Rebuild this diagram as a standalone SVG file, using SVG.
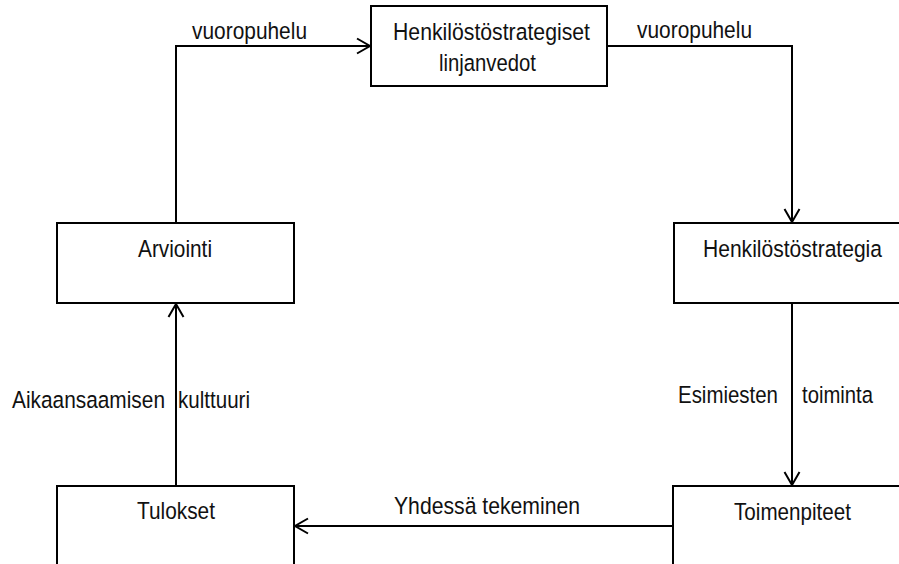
<svg xmlns="http://www.w3.org/2000/svg" width="899" height="564" viewBox="0 0 899 564">
<defs>
<style>
.box{fill:#fff;stroke:#000;stroke-width:2}
.conn{fill:none;stroke:#000;stroke-width:2}
text{font-family:"Liberation Sans",Arial,sans-serif;font-size:24.5px;fill:#111}
</style>
<marker id="arr" markerUnits="userSpaceOnUse" markerWidth="16" markerHeight="18" viewBox="0 0 16 18" refX="14" refY="9" orient="auto">
<path d="M1,1.5 L14,9 L1,16.5" fill="none" stroke="#000" stroke-width="2"/>
</marker>
</defs>
<rect width="899" height="564" fill="#fff"/>
<g id="connectors">
<path class="conn" d="M176,223 V46 H370" marker-end="url(#arr)"/>
<path class="conn" d="M607,46 H792 V222" marker-end="url(#arr)"/>
<path class="conn" d="M792,303 V485" marker-end="url(#arr)"/>
<path class="conn" d="M673,526 H295" marker-end="url(#arr)"/>
<path class="conn" d="M176,486 V304" marker-end="url(#arr)"/>
<text x="192" y="39" textLength="115" lengthAdjust="spacingAndGlyphs">vuoropuhelu</text>
<text x="637" y="38" textLength="115" lengthAdjust="spacingAndGlyphs">vuoropuhelu</text>
<text x="12" y="408" textLength="153" lengthAdjust="spacingAndGlyphs">Aikaansaamisen</text>
<text x="178" y="408" textLength="72" lengthAdjust="spacingAndGlyphs">kulttuuri</text>
<text x="678" y="403" textLength="100" lengthAdjust="spacingAndGlyphs">Esimiesten</text>
<text x="802" y="403" textLength="71" lengthAdjust="spacingAndGlyphs">toiminta</text>
<text x="394" y="514" textLength="186" lengthAdjust="spacingAndGlyphs">Yhdessä tekeminen</text>
</g>
<g id="node-linjanvedot">
<rect class="box" x="371" y="6" width="236" height="80"/>
<text x="393" y="40" textLength="197" lengthAdjust="spacingAndGlyphs">Henkilöstöstrategiset</text>
<text x="439" y="71" textLength="97" lengthAdjust="spacingAndGlyphs">linjanvedot</text>
</g>
<g id="node-henkilostostrategia">
<rect class="box" x="674" y="223" width="250" height="80"/>
<text x="703" y="257" textLength="179" lengthAdjust="spacingAndGlyphs">Henkilöstöstrategia</text>
</g>
<g id="node-arviointi">
<rect class="box" x="57" y="223" width="237" height="80"/>
<text x="138" y="257" textLength="74" lengthAdjust="spacingAndGlyphs">Arviointi</text>
</g>
<g id="node-tulokset">
<rect class="box" x="57" y="486" width="237" height="100"/>
<text x="137" y="519" textLength="78" lengthAdjust="spacingAndGlyphs">Tulokset</text>
</g>
<g id="node-toimenpiteet">
<rect class="box" x="673" y="486" width="250" height="100"/>
<text x="734" y="520" textLength="117" lengthAdjust="spacingAndGlyphs">Toimenpiteet</text>
</g>
</svg>
